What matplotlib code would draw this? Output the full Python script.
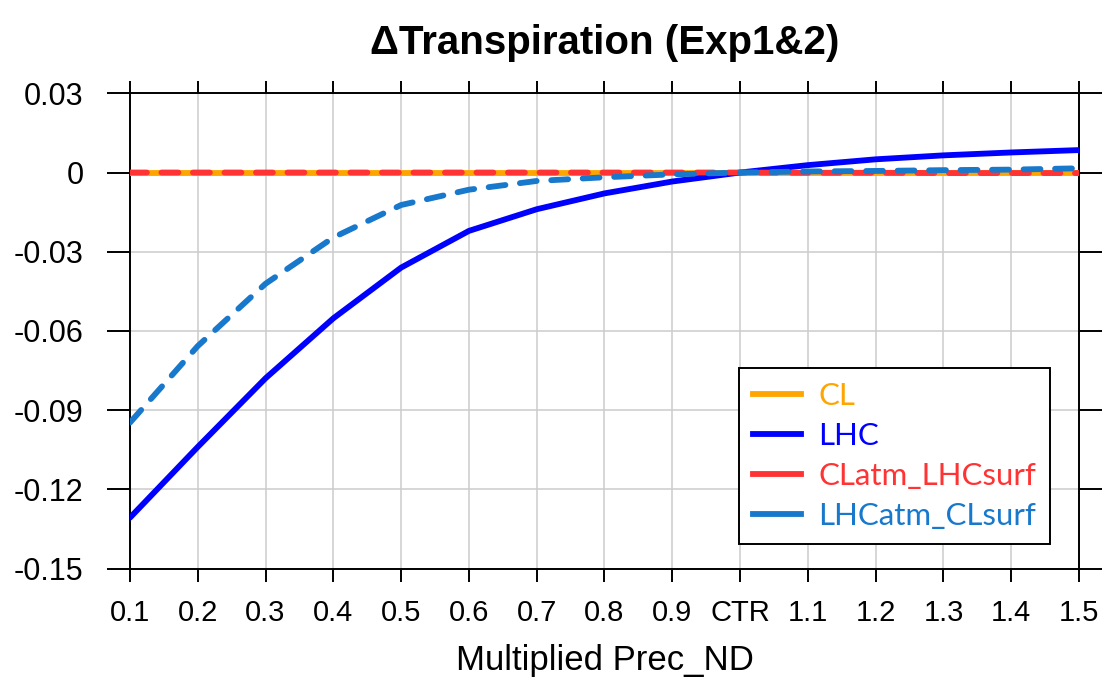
import matplotlib
matplotlib.use("Agg")
import matplotlib.pyplot as plt
from matplotlib.lines import Line2D

# Precipitation multipliers (1.0 = control run)
multipliers = [0.1, 0.2, 0.3, 0.4, 0.5, 0.6, 0.7, 0.8, 0.9, 1.0, 1.1, 1.2, 1.3, 1.4, 1.5]
tick_labels = ["0.1", "0.2", "0.3", "0.4", "0.5", "0.6", "0.7", "0.8", "0.9", "CTR",
               "1.1", "1.2", "1.3", "1.4", "1.5"]

# Change in transpiration for each experiment
cl = [0.0] * 15
lhc = [-0.1307, -0.1039, -0.0779, -0.0552, -0.0360, -0.0221, -0.0139, -0.0079, -0.0034,
       0.0, 0.0028, 0.0050, 0.0065, 0.0076, 0.0085]
clatm_lhcsurf = [0.0, 0.0, 0.0, 0.0, 0.0, 0.0, 0.0, 0.0, 0.0,
                 0.0, -0.0001, -0.0001, -0.0002, -0.0002, -0.0002]
lhcatm_clsurf = [-0.0947, -0.0657, -0.0421, -0.0246, -0.0123, -0.0065, -0.0032, -0.0018, -0.0007,
                 0.0, 0.0004, 0.0006, 0.0009, 0.0011, 0.0016]

series_names = ["CL", "LHC", "CLatm_LHCsurf", "LHCatm_CLsurf"]
colors = ["#FFA500", "#0000FF", "#FF3333", "#1878CC"]

y_ticks = [0.03, 0.0, -0.03, -0.06, -0.09, -0.12, -0.15]
y_tick_labels = ["0.03", "0", "-0.03", "-0.06", "-0.09", "-0.12", "-0.15"]

plt.rcParams["font.family"] = ["Liberation Sans", "DejaVu Sans"]

fig = plt.figure(figsize=(11.05, 6.86), dpi=100)
ax = fig.add_axes([0.1176, 0.171, 0.8589, 0.693])

lw = 4.2
ax.plot(multipliers, cl, color=colors[0], lw=lw, solid_capstyle="round", zorder=3)
ax.plot(multipliers, lhc, color=colors[1], lw=lw, solid_capstyle="round", zorder=4)
ax.plot(multipliers, clatm_lhcsurf, color=colors[2], lw=lw, dashes=(2.9, 2.5),
        dash_capstyle="round", zorder=5)
ax.plot(multipliers, lhcatm_clsurf, color=colors[3], lw=lw, dashes=(2.9, 2.5),
        dash_capstyle="round", zorder=6)

ax.set_xlim(0.1, 1.5)
ax.set_ylim(-0.15, 0.03)
ax.set_xticks(multipliers)
ax.set_xticklabels(tick_labels, fontsize=21)
ax.set_yticks(y_ticks)
ax.set_yticklabels(y_tick_labels, fontsize=22)

ax.grid(True, color="#CCCCCC", lw=1.1, zorder=0)
ax.set_axisbelow(True)

ax.tick_params(axis="x", which="major", direction="out", length=9, width=1.4,
               top=True, bottom=True, pad=13)
ax.tick_params(axis="y", which="major", direction="out", length=16.5, width=1.4,
               left=True, right=True, pad=17)
for sp in ax.spines.values():
    sp.set_linewidth(1.4)

ax.set_xlabel("Multiplied Prec_ND", fontsize=25, labelpad=12)
ax.set_title("\u0394Transpiration (Exp1&2)", fontsize=29, fontweight="bold", pad=28)

handles = [Line2D([0], [0], color=c, lw=lw) for c in colors]
leg = ax.legend(handles, series_names, loc="upper left",
                bbox_to_anchor=(0.6413, 0.4223), frameon=True, fancybox=False,
                framealpha=1, edgecolor="black", handlelength=1.55, handletextpad=0.55,
                borderpad=0.45, labelspacing=0.38, borderaxespad=0,
                prop={"family": ["Lato", "DejaVu Sans"], "size": 22.5})
leg.get_frame().set_linewidth(1.4)
for txt, c in zip(leg.get_texts(), colors):
    txt.set_color(c)
leg.set_zorder(10)

fig.savefig("out.png", dpi=100)
